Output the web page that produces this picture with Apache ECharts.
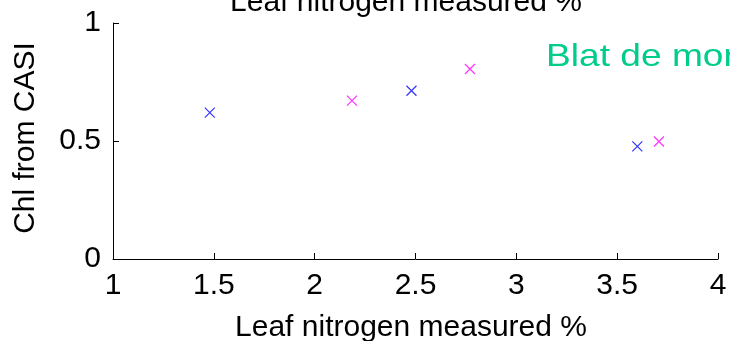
<!DOCTYPE html>
<html>
<head>
<meta charset="utf-8">
<script src="https://cdn.jsdelivr.net/npm/echarts@6/dist/echarts.min.js"></script>
<style>
  html, body { margin: 0; padding: 0; background: #fff; }
  #chart { width: 730px; height: 341px; }
</style>
</head>
<body>
<div id="chart"></div>
<script>
// Leaf nitrogen (%) vs chlorophyll index from CASI, two groups of samples
const nitrogenBlue = [1.48, 2.48, 3.60];
const chlBlue = [0.62, 0.713, 0.477];
const nitrogenMagenta = [2.185, 2.77, 3.707];
const chlMagenta = [0.671, 0.805, 0.498];

const xTicks = [1, 1.5, 2, 2.5, 3, 3.5, 4];
const yTicks = [0, 0.5, 1];

const axisTitle = 'Leaf nitrogen measured %';
const yTitle = 'Chl from CASI';
const cropLabel = 'Blat de moro';

const FONT = 'Liberation Sans, Arial, sans-serif';
const CROSS = 'path://M0,0L10,10M10,0L0,10';

function pairs(xs, ys) {
  return xs.map((x, i) => [x, ys[i]]);
}

const chart = echarts.init(document.getElementById('chart'), null, { renderer: 'canvas' });

chart.setOption({
  animation: false,
  backgroundColor: '#ffffff',
  grid: { left: 113, right: 12, top: 23, bottom: 82 },
  xAxis: {
    type: 'value',
    min: xTicks[0],
    max: xTicks[xTicks.length - 1],
    interval: 0.5,
    axisLine: { show: true, onZero: false, lineStyle: { color: '#000', width: 1 } },
    axisTick: { show: true, inside: true, length: 6, lineStyle: { color: '#000' } },
    splitLine: { show: false },
    axisLabel: {
      color: '#000', fontFamily: FONT, fontSize: 30, margin: 12,
      formatter: v => String(v)
    }
  },
  yAxis: {
    type: 'value',
    min: yTicks[0],
    max: yTicks[yTicks.length - 1],
    interval: 0.5,
    axisLine: { show: true, onZero: false, lineStyle: { color: '#000', width: 1 } },
    axisTick: { show: true, inside: true, length: 6, lineStyle: { color: '#000' } },
    splitLine: { show: false },
    axisLabel: {
      color: '#000', fontFamily: FONT, fontSize: 30, margin: 12,
      formatter: v => String(v)
    }
  },
  series: [
    {
      type: 'scatter',
      data: pairs(nitrogenBlue, chlBlue),
      symbol: CROSS,
      symbolSize: 10,
      itemStyle: { color: 'transparent', borderColor: '#0000ff', borderWidth: 1.2 }
    },
    {
      type: 'scatter',
      data: pairs(nitrogenMagenta, chlMagenta),
      symbol: CROSS,
      symbolSize: 10,
      itemStyle: { color: 'transparent', borderColor: '#ff00ff', borderWidth: 1.2 }
    }
  ],
  graphic: [
    {
      // title above the plot, partly off the top edge
      type: 'text', x: 406, y: 3,
      style: { text: axisTitle, fill: '#000', font: '30px ' + FONT, align: 'center', verticalAlign: 'middle' }
    },
    {
      type: 'text', x: 411, y: 328,
      style: { text: axisTitle, fill: '#000', font: '30px ' + FONT, align: 'center', verticalAlign: 'middle' }
    },
    {
      type: 'text', x: 26, y: 138, rotation: Math.PI / 2,
      style: { text: yTitle, fill: '#000', font: '30px ' + FONT, align: 'center', verticalAlign: 'middle' }
    },
    {
      type: 'text', x: 546, y: 57, scaleX: 1.16,
      style: { text: cropLabel, fill: '#00cc8c', font: '32px ' + FONT, align: 'left', verticalAlign: 'middle' }
    }
  ]
});
</script>
</body>
</html>
